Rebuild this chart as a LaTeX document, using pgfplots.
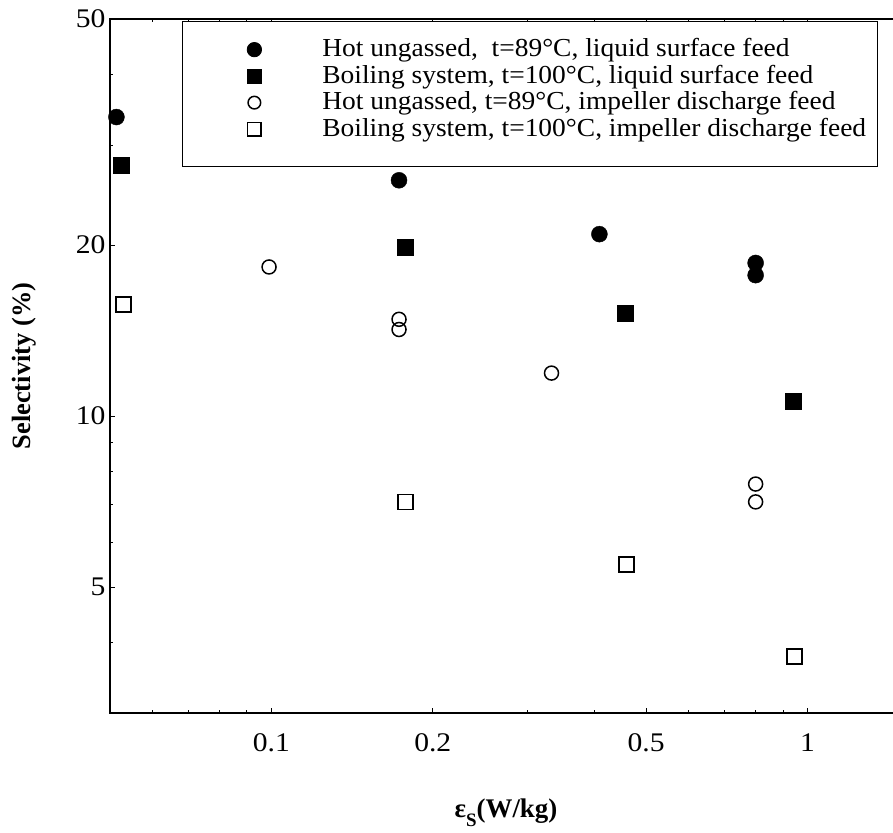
\documentclass[border=0pt]{standalone}
\usepackage{pgfplots}
\pgfplotsset{compat=1.18}
\usepackage{fontspec}
\setmainfont{Liberation Serif}
\newcommand{\lgx}[1]{\scalebox{1.06}[1]{#1}}
\newcommand{\tkx}[1]{\scalebox{1.1}[1]{#1}}
\begin{document}
\begin{tikzpicture}
\path[use as bounding box] (0,0) rectangle (893bp,833bp);
\begin{axis}[
  at={(110bp,120bp)}, anchor=south west,
  scale only axis, width=792bp, height=694bp,
  xmode=log, ymode=log,
  xmin=0.05, xmax=1.5, ymin=3, ymax=50,
  xtick={0.1,0.2,0.5,1}, xticklabels={\tkx{0.1},\tkx{0.2},\tkx{0.5},\tkx{1}},
  minor xtick={0.06,0.07,0.08,0.09,0.3,0.4,0.6,0.7,0.8,0.9},
  ytick={5,10,20,50}, yticklabels={\tkx{5},\tkx{10},\tkx{20},\tkx{50}},
  minor ytick={4,6,7,8,9,30,40},
  tick align=inside,
  major tick length=5bp, minor tick length=3bp,
  every tick/.style={black, line width=0.8bp},
  axis line style={line width=2bp},
  tick label style={font=\fontsize{27}{32}\selectfont},
  xticklabel style={anchor=base, yshift=-39bp},
  yticklabel style={xshift=-1bp},
  ylabel={\fontsize{26.5}{30}\selectfont\bfseries Selectivity (\%)},
  ylabel style={at={(axis description cs:-0.108,0.5)}, anchor=center},
  xlabel={\fontsize{27}{30}\selectfont\bfseries ε\raisebox{-0.35em}{\fontsize{19}{20}\selectfont S}(W/kg)},
  xlabel style={at={(axis description cs:0.5,-0.1499)}, anchor=base},
  legend style={at={(axis description cs:0.0909,0.9964)}, anchor=north west,
    draw=black, line width=0.8bp, inner xsep=11bp, inner ysep=19.5bp,
    row sep=0pt, /tikz/column sep=0pt,
    nodes={inner sep=0pt, text height=15.5bp, text depth=11bp, font=\fontsize{26}{30}\selectfont}},
  legend cell align=left,
  legend image code/.code={\path[draw=none,fill=none] (0bp,0bp) rectangle (129bp,0bp);
    \draw[#1, every mark/.append style={scale=0.9}] plot coordinates {(61bp,5bp)};},
]
\addplot[only marks, mark=*, mark size=8bp, black] coordinates {
(0.0514,33.6) (0.173,26.0) (0.409,20.9) (0.80,18.6) (0.80,17.7)};
\addlegendentry{\lgx{Hot ungassed,~ t=89°C, liquid surface feed}}
\addplot[only marks, mark=square*, mark size=8bp, black] coordinates {
(0.0525,27.6) (0.178,19.8) (0.457,15.2) (0.94,10.6)};
\addlegendentry{\lgx{Boiling system, t=100°C, liquid surface feed}}
\addplot[only marks, mark=o, mark size=7bp, black, mark options={line width=1.5bp}] coordinates {
(0.099,18.3) (0.173,14.8) (0.173,14.2) (0.333,11.9) (0.80,7.59) (0.80,7.06)};
\addlegendentry{\lgx{Hot ungassed, t=89°C, impeller discharge feed}}
\addplot[only marks, mark=square, mark size=7.5bp, black, mark options={line width=1.5bp}] coordinates {
(0.053,15.7) (0.178,7.06) (0.459,5.48) (0.946,3.77)};
\addlegendentry{\lgx{Boiling system, t=100°C, impeller discharge feed}}
\end{axis}
\end{tikzpicture}
\end{document}
